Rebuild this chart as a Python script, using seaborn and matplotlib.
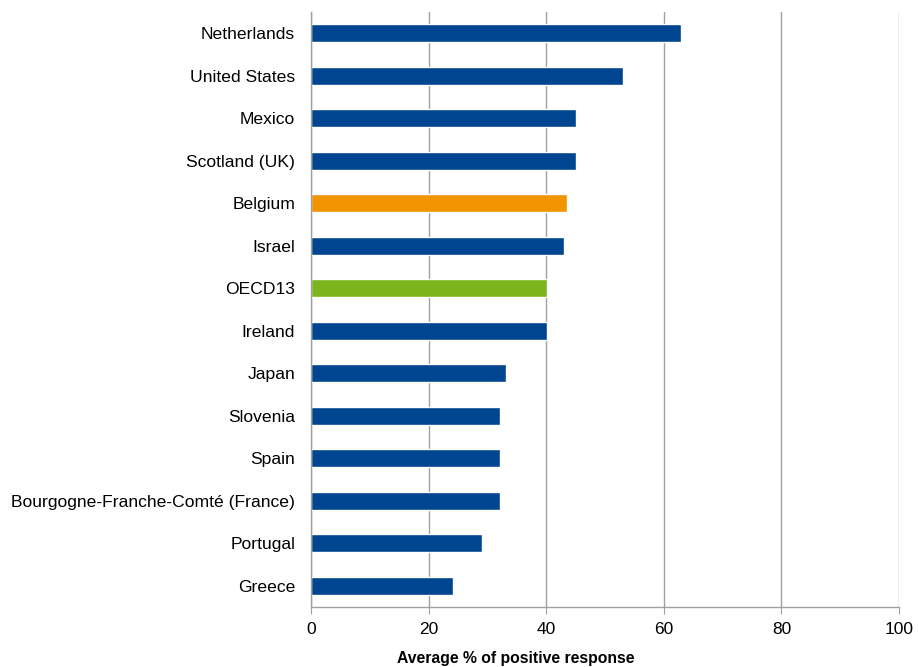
import matplotlib
matplotlib.use("Agg")
import matplotlib.pyplot as plt
import seaborn as sns
import pandas as pd

countries = ["Netherlands", "United States", "Mexico", "Scotland (UK)", "Belgium",
             "Israel", "OECD13", "Ireland", "Japan", "Slovenia", "Spain",
             "Bourgogne-Franche-Comté (France)", "Portugal", "Greece"]
values = [63, 53.1, 45.1, 45.1, 43.6, 43.1, 40.1, 40.1, 33.1, 32.1, 32.1, 32.1, 29.1, 24.1]

blue = "#00458F"
orange = "#F29400"
green = "#7AB51D"
palette = {c: blue for c in countries}
palette["Belgium"] = orange
palette["OECD13"] = green

df = pd.DataFrame({"country": countries, "value": values})

sns.set_style("white")
plt.rcParams["font.family"] = ["Liberation Sans", "DejaVu Sans"]
plt.rcParams["text.color"] = "black"

fig = plt.figure(figsize=(9.18, 6.67), dpi=100)
ax = fig.add_axes([311 / 918, 60 / 667, 588 / 918, 595 / 667])

sns.barplot(data=df, x="value", y="country", hue="country", palette=palette,
            order=countries, hue_order=countries, width=0.43, legend=False,
            saturation=1, ax=ax)

ax.set_xlim(0, 100)
ax.set_ylim(len(countries) - 0.5, -0.5)
ax.set_xticks([0, 20, 40, 60, 80, 100])
ax.xaxis.grid(True, color="#A0A0A0", linewidth=1)
ax.set_axisbelow(True)
for s in ["top", "right"]:
    ax.spines[s].set_visible(False)
for s in ["left", "bottom"]:
    ax.spines[s].set_color("#A0A0A0")
    ax.spines[s].set_linewidth(1)
ax.tick_params(axis="x", which="both", bottom=True, length=5, color="#A0A0A0",
               labelsize=12.5, pad=6, labelcolor="black")
ax.tick_params(axis="y", left=False, labelsize=12.6, pad=8, labelcolor="black")
ax.set_ylabel("")
ax.set_xlabel("Average % of positive response", fontsize=11.3, fontweight="bold",
              color="black")
ax.xaxis.set_label_coords((516 - 311) / 588, (667 - 659 - 60) / 595)
ax.xaxis.label.set_verticalalignment("center")

fig.savefig("out.png", dpi=100)
